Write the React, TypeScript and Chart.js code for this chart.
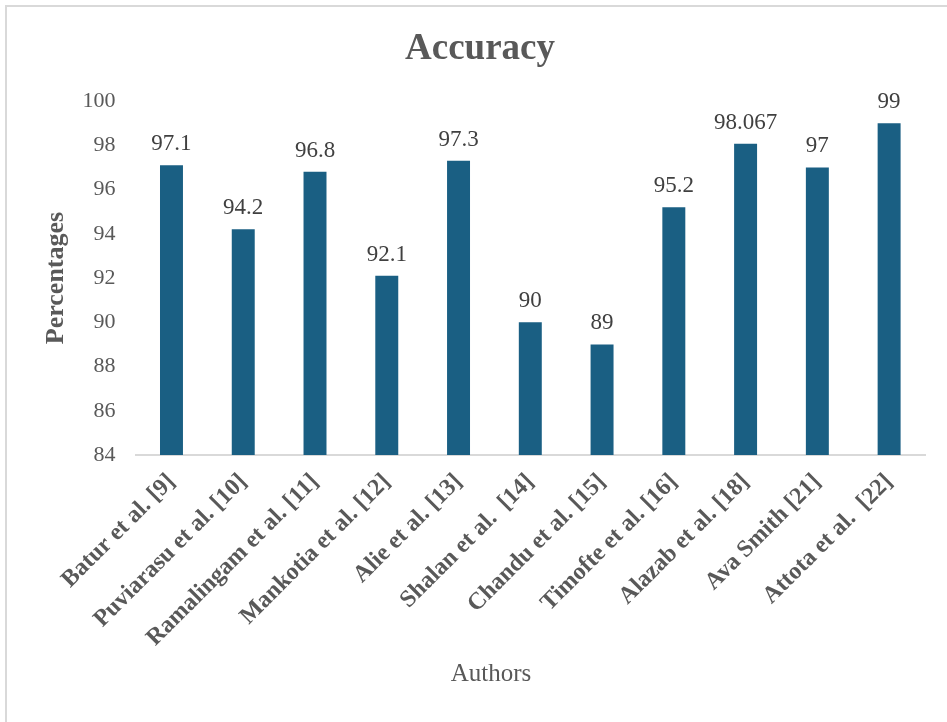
import React, { useEffect, useRef } from "react";
import { Chart, registerables } from "chart.js";

Chart.register(...registerables);

const categories = [
  "Batur et al. [9]",
  "Puviarasu et al. [10]",
  "Ramalingam et al. [11]",
  "Mankotia et al. [12]",
  "Alie et al. [13]",
  "Shalan et al.  [14]",
  "Chandu et al. [15]",
  "Timofte et al. [16]",
  "Alazab et al. [18]",
  "Ava Smith [21]",
  "Attota et al.  [22]",
];
const accuracy = [97.1, 94.2, 96.8, 92.1, 97.3, 90, 89, 95.2, 98.067, 97, 99];
const yMin = 84;
const yMax = 100;
const yStep = 2;
const chartTitle = "Accuracy";
const xTitle = "Authors";
const yTitle = "Percentages";

const FONT = '"Liberation Serif", "Times New Roman", serif';

const labelsPlugin = {
  id: "customLabels",
  afterDatasetsDraw(chart: any) {
    const ctx = chart.ctx;
    ctx.save();
    const meta = chart.getDatasetMeta(0);
    ctx.font = `23px ${FONT}`;
    ctx.fillStyle = "#404040";
    ctx.textAlign = "center";
    ctx.textBaseline = "alphabetic";
    meta.data.forEach((bar: any, i: number) => {
      ctx.fillText(String(accuracy[i]), bar.x, bar.y - 15);
    });
    ctx.restore();
  },
  afterDraw(chart: any) {
    const ctx = chart.ctx;
    ctx.save();
    ctx.fillStyle = "#595959";
    ctx.textAlign = "center";
    ctx.textBaseline = "middle";
    ctx.font = `bold 37px ${FONT}`;
    ctx.fillText(chartTitle, 480, 49);
    ctx.font = `25px ${FONT}`;
    ctx.fillText(xTitle, 491, 674);
    ctx.restore();
  },
};

export default function App() {
  const ref = useRef<HTMLCanvasElement>(null);
  useEffect(() => {
    if (!ref.current) return;
    const chart = new Chart(ref.current, {
      type: "bar",
      data: {
        labels: categories,
        datasets: [
          {
            data: accuracy,
            backgroundColor: "#1a5f83",
            borderWidth: 0,
            barPercentage: 0.32,
            categoryPercentage: 1,
          },
        ],
      },
      options: {
        responsive: false,
        animation: false,
        devicePixelRatio: 1,
        layout: { padding: { left: 0, right: 22, top: 101, bottom: 0 } },
        plugins: {
          legend: { display: false },
          tooltip: { enabled: false },
          title: { display: false },
        },
        scales: {
          x: {
            grid: { display: false, drawTicks: false },
            border: { display: true, color: "#d9d9d9", width: 2 },
            ticks: {
              minRotation: 45,
              maxRotation: 45,
              autoSkip: false,
              padding: 13,
              color: "#595959",
              font: { family: FONT, size: 24, weight: "bold" },
            },
            afterFit: (scale: any) => {
              scale.height = 267;
            },
          },
          y: {
            min: yMin,
            max: yMax,
            grid: { display: false, drawTicks: false },
            border: { display: false },
            ticks: {
              stepSize: yStep,
              padding: 20,
              color: "#595959",
              font: { family: FONT, size: 22 },
            },
            title: {
              display: true,
              text: yTitle,
              color: "#595959",
              font: { family: FONT, size: 26, weight: "bold" },
              padding: { top: 41, bottom: 0 },
            },
            afterFit: (scale: any) => {
              scale.width = 135.6;
            },
          },
        },
      },
      plugins: [labelsPlugin],
    });
    return () => chart.destroy();
  }, []);

  return (
    <div
      style={{
        position: "fixed",
        left: 0,
        top: 0,
        width: 947,
        height: 722,
        background: "#fff",
        overflow: "hidden",
      }}
    >
      <div
        style={{
          position: "absolute",
          left: 5,
          top: 5,
          width: 960,
          height: 740,
          border: "2px solid #d9d9d9",
          boxSizing: "border-box",
        }}
      />
      <canvas
        ref={ref}
        width={947}
        height={722}
        style={{ position: "absolute", left: 0, top: 0, display: "block" }}
      />
    </div>
  );
}
